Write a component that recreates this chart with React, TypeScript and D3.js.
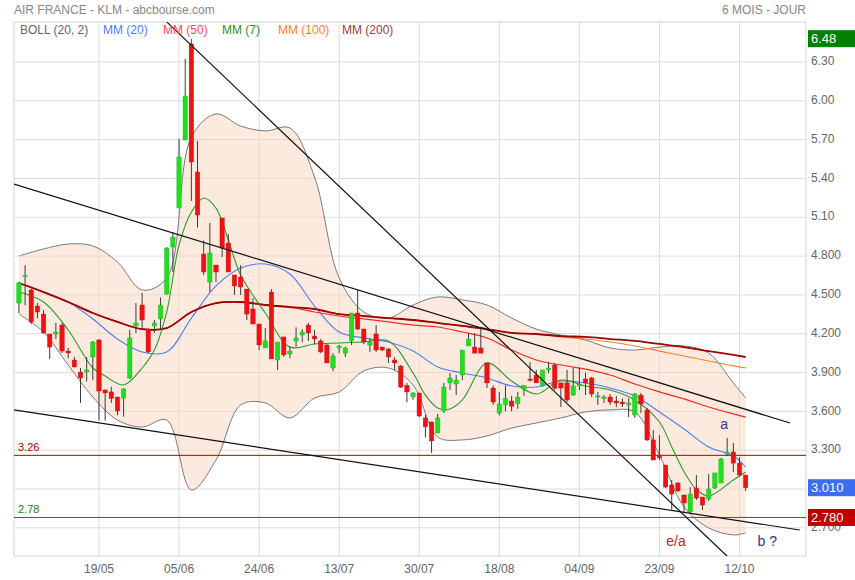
import React from 'react';
import * as d3 from 'd3';

const W = 855;
const H = 580;
const plot = { left: 14, right: 806, top: 22, bottom: 556 };

// open, high, low, close (one per trading day)
const candles: [number, number, number, number][] = [
  [4.437, 4.6, 4.36, 4.592], [4.646, 4.73, 4.42, 4.65], [4.538, 4.55, 4.275, 4.29],
  [4.414, 4.437, 4.32, 4.368], [4.352, 4.383, 4.2, 4.206], [4.198, 4.198, 4.005, 4.097],
  [4.198, 4.283, 4.159, 4.213], [4.267, 4.283, 4.05, 4.066], [4.066, 4.09, 4.01, 4.051],
  [3.997, 4.02, 3.94, 3.943], [3.904, 3.935, 3.665, 3.858], [3.904, 4.02, 3.83, 3.92],
  [4.02, 4.144, 3.84, 4.136], [4.151, 4.16, 3.53, 3.757], [3.765, 3.77, 3.53, 3.742],
  [3.75, 3.79, 3.665, 3.7], [3.711, 3.711, 3.57, 3.603], [3.703, 3.78, 3.56, 3.773],
  [3.858, 4.23, 3.85, 4.167], [4.26, 4.437, 4.206, 4.283], [4.422, 4.515, 4.23, 4.306],
  [4.236, 4.24, 4.05, 4.059], [4.26, 4.306, 4.206, 4.283], [4.314, 4.48, 4.23, 4.422],
  [4.507, 4.87, 4.5, 4.862], [4.87, 4.986, 4.677, 4.947], [5.172, 5.705, 5.17, 5.566],
  [5.697, 6.323, 5.697, 6.037], [6.439, 6.478, 5.226, 5.527], [5.45, 5.69, 5.02, 5.117],
  [4.816, 4.92, 4.654, 4.677], [4.6, 5.056, 4.522, 4.824], [4.731, 4.731, 4.6, 4.677],
  [5.094, 5.094, 4.793, 4.862], [4.9, 4.97, 4.677, 4.677], [4.654, 4.654, 4.5, 4.569],
  [4.638, 4.73, 4.5, 4.561], [4.545, 4.545, 4.306, 4.352], [4.391, 4.476, 4.275, 4.275],
  [4.275, 4.275, 4.074, 4.113], [4.09, 4.244, 4.09, 4.144], [4.522, 4.545, 4.005, 4.005],
  [3.997, 4.136, 3.92, 4.136], [4.175, 4.175, 4.02, 4.036], [4.043, 4.1, 4.01, 4.066],
  [4.144, 4.25, 4.1, 4.167], [4.19, 4.236, 4.136, 4.213], [4.267, 4.283, 4.144, 4.206],
  [4.182, 4.23, 4.12, 4.159], [4.144, 4.16, 4.05, 4.059], [4.113, 4.12, 3.974, 3.974],
  [3.935, 4.05, 3.91, 4.028], [4.09, 4.113, 4.05, 4.105], [4.05, 4.1, 4.02, 4.09],
  [4.144, 4.36, 4.113, 4.36], [4.36, 4.538, 4.23, 4.236], [4.236, 4.24, 4.12, 4.136],
  [4.113, 4.167, 4.06, 4.136], [4.198, 4.267, 4.06, 4.074], [4.097, 4.1, 4.066, 4.074],
  [4.082, 4.09, 3.974, 4.02], [3.997, 4.02, 3.92, 3.974], [3.95, 3.958, 3.78, 3.788],
  [3.8, 3.82, 3.67, 3.75], [3.711, 3.75, 3.69, 3.742], [3.742, 3.742, 3.556, 3.564],
  [3.549, 3.572, 3.4, 3.48], [3.518, 3.518, 3.28, 3.371], [3.433, 3.58, 3.433, 3.549],
  [3.603, 3.82, 3.587, 3.788], [3.82, 3.896, 3.765, 3.858], [3.811, 3.88, 3.726, 3.842],
  [3.881, 4.074, 3.842, 4.074], [4.105, 4.206, 4.105, 4.159], [4.097, 4.206, 4.05, 4.05],
  [4.09, 4.236, 4.05, 4.05], [3.974, 3.974, 3.78, 3.82], [3.78, 3.8, 3.65, 3.672],
  [3.587, 3.75, 3.57, 3.657], [3.65, 3.8, 3.6, 3.7], [3.68, 3.72, 3.6, 3.64],
  [3.66, 3.75, 3.62, 3.71], [3.773, 3.8, 3.72, 3.8], [3.85, 3.98, 3.83, 3.84],
  [3.88, 3.92, 3.82, 3.82], [3.8, 3.92, 3.79, 3.92], [3.92, 3.98, 3.895, 3.935],
  [3.958, 3.974, 3.765, 3.78], [3.82, 3.82, 3.634, 3.78], [3.82, 3.92, 3.672, 3.688],
  [3.726, 3.935, 3.72, 3.796], [3.796, 3.935, 3.765, 3.81], [3.85, 3.9, 3.726, 3.82],
  [3.858, 3.865, 3.71, 3.734], [3.711, 3.75, 3.65, 3.72], [3.7, 3.726, 3.665, 3.711],
  [3.711, 3.734, 3.65, 3.672], [3.68, 3.72, 3.634, 3.665], [3.672, 3.7, 3.634, 3.657],
  [3.65, 3.7, 3.556, 3.665], [3.572, 3.742, 3.549, 3.734], [3.726, 3.742, 3.587, 3.657],
  [3.61, 3.626, 3.371, 3.379], [3.379, 3.456, 3.224, 3.224], [3.263, 3.417, 3.224, 3.24],
  [3.185, 3.185, 3.008, 3.015], [3.031, 3.07, 2.84, 2.961], [3.046, 3.054, 2.977, 2.985],
  [2.954, 2.954, 2.815, 2.892], [2.822, 3.015, 2.815, 2.961], [3.008, 3.108, 2.915, 2.93],
  [2.938, 2.938, 2.838, 2.876], [2.923, 3.116, 2.907, 3.0], [3.008, 3.124, 3.0, 3.124],
  [3.046, 3.24, 3.046, 3.232], [3.27, 3.394, 3.255, 3.286], [3.286, 3.355, 3.13, 3.2],
  [3.2, 3.247, 3.1, 3.108], [3.108, 3.108, 2.985, 3.01],
];

const dateTickIdx = [13, 26, 39, 52, 65, 78, 91, 104, 117];
const dateTickLabels = ['19/05', '05/06', '24/06', '13/07', '30/07', '18/08', '04/09', '23/09', '12/10'];

// 3.000 is covered by the last-price box, so it has no label
const priceTicks = [6.3, 6.0, 5.7, 5.4, 5.1, 4.8, 4.5, 4.2, 3.9, 3.6, 3.3, 3.0, 2.7];
const priceTickLabels = ['6.30', '6.00', '5.70', '5.40', '5.10', '4.800', '4.500', '4.200', '3.900', '3.600', '3.300', '', '2.700'];

// indicator readings, sampled every few sessions
const sampleIdx = [0, 4, 8, 12, 16, 20, 24, 28, 32, 36, 40, 44, 48, 52, 56, 60, 64, 68, 72, 76, 80, 84, 88, 92, 96, 100, 104, 108, 112, 116, 118];
const bollUpper = [4.801, 4.855, 4.893, 4.878, 4.754, 4.538, 4.631, 5.72, 5.898, 5.805, 5.767, 5.79, 5.411, 4.631, 4.368, 4.321, 4.422, 4.484, 4.461, 4.422, 4.321, 4.236, 4.19, 4.151, 4.09, 4.074, 4.097, 4.105, 4.051, 3.819, 3.703];
const bollLower = [4.352, 4.213, 3.958, 3.711, 3.533, 3.479, 3.533, 2.992, 3.224, 3.649, 3.665, 3.549, 3.703, 3.75, 3.912, 3.935, 3.804, 3.402, 3.379, 3.41, 3.471, 3.51, 3.549, 3.595, 3.611, 3.595, 3.263, 2.861, 2.699, 2.645, 2.66];
const mm20 = [4.592, 4.522, 4.445, 4.314, 4.159, 4.059, 4.059, 4.321, 4.569, 4.708, 4.739, 4.662, 4.414, 4.213, 4.167, 4.136, 4.066, 3.943, 3.896, 3.858, 3.796, 3.788, 3.835, 3.819, 3.781, 3.719, 3.595, 3.464, 3.325, 3.255, 3.17];
const mm50 = [4.592, 4.522, 4.445, 4.36, 4.291, 4.236, 4.244, 4.368, 4.437, 4.445, 4.422, 4.406, 4.368, 4.337, 4.314, 4.291, 4.267, 4.252, 4.213, 4.167, 4.074, 3.997, 3.958, 3.927, 3.881, 3.811, 3.75, 3.696, 3.634, 3.58, 3.556];
const mm100 = [4.592, 4.522, 4.445, 4.36, 4.291, 4.236, 4.244, 4.368, 4.437, 4.445, 4.422, 4.406, 4.391, 4.352, 4.337, 4.321, 4.306, 4.283, 4.26, 4.236, 4.206, 4.198, 4.175, 4.159, 4.136, 4.105, 4.066, 4.028, 3.989, 3.951, 3.935];
const mm200 = [4.592, 4.522, 4.445, 4.36, 4.291, 4.236, 4.244, 4.368, 4.437, 4.445, 4.422, 4.406, 4.391, 4.352, 4.337, 4.321, 4.306, 4.283, 4.26, 4.236, 4.206, 4.198, 4.182, 4.175, 4.159, 4.144, 4.121, 4.097, 4.066, 4.036, 4.02];

const mm7Idx = [0, 4, 8, 12, 14, 17, 20, 22, 24, 26, 28, 30, 32, 34, 36, 40, 44, 48, 52, 56, 60, 64, 66, 68, 70, 72, 76, 80, 84, 88, 92, 96, 100, 104, 106, 108, 110, 112, 116, 118];
const mm7 = [4.522, 4.445, 4.229, 3.935, 3.873, 3.804, 3.935, 4.074, 4.368, 4.886, 5.14, 5.249, 5.171, 4.924, 4.654, 4.36, 4.097, 4.121, 4.128, 4.136, 4.144, 3.896, 3.726, 3.626, 3.618, 3.688, 3.974, 3.835, 3.734, 3.842, 3.796, 3.765, 3.688, 3.518, 3.325, 3.134, 2.996, 2.946, 3.07, 3.131];

// hand drawn trend lines: [startIdx, startPrice, endIdx, endPrice]
const trendLines: [number, number, number, number][] = [
  [24.0, 6.61, 115.0, 2.48],
  [-0.8, 5.357, 125.2, 3.51],
  [-0.8, 3.611, 126.8, 2.683],
];

const supports = [
  { v: 3.26, label: '3.26', color: '#b00000' },
  { v: 2.78, label: '2.78', color: '#1a7a1a' },
];

const lastLabels = [
  { v: 6.48, text: '6.48', color: '#008000' },
  { v: 3.01, text: '3.010', color: '#3c6df0' },
  { v: 2.78, text: '2.780', color: '#c00000' },
];

const legend = [
  { text: 'BOLL (20, 2)', color: '#666', x: 20 },
  { text: 'MM (20)', color: '#4d7cfe', x: 103 },
  { text: 'MM (50)', color: '#ff4a4a', x: 163 },
  { text: 'MM (7)', color: '#2a8f2a', x: 222 },
  { text: 'MM (100)', color: '#ff7f27', x: 278 },
  { text: 'MM (200)', color: '#a33a3a', x: 342 },
];

const notes = [
  { text: 'a', idx: 114.5, v: 3.464, color: '#333399' },
  { text: 'e/a', idx: 106.7, v: 2.56, color: '#cc2222' },
  { text: 'b ?', idx: 121.5, v: 2.56, color: '#333399' },
];

const FONT = '"Liberation Sans", Arial, sans-serif';

export default function App() {
  const x = d3.scaleLinear().domain([-0.8, 127.8]).range([plot.left, plot.right]);
  const y = d3.scaleLinear().domain([2.4822, 6.609]).range([plot.bottom, plot.top]);

  const band = d3
    .area<number>()
    .x((i) => x(sampleIdx[i]))
    .y0((i) => y(bollLower[i]))
    .y1((i) => y(bollUpper[i]))
    .curve(d3.curveCatmullRom);
  const idxs = d3.range(sampleIdx.length);

  const lineOf = (vals: number[], idx: number[] = sampleIdx) =>
    d3
      .line<number>()
      .x((i) => x(idx[i]))
      .y((i) => y(vals[i]))
      .curve(d3.curveCatmullRom)(d3.range(vals.length)) || '';

  const bodyW = 4.4;

  return (
    <svg width={W} height={H} style={{ position: 'absolute', left: 0, top: 0, background: '#fff' }} fontFamily={FONT}>
      <defs>
        <clipPath id="plotClip">
          <rect x={plot.left} y={plot.top} width={plot.right - plot.left} height={plot.bottom - plot.top} />
        </clipPath>
      </defs>

      <text x={14} y={14} fontSize={12} fill="#888">AIR FRANCE - KLM - abcbourse.com</text>
      <text x={plot.right} y={14} fontSize={12} fill="#888" textAnchor="end">6 MOIS - JOUR</text>

      {/* grid */}
      {priceTicks.map((t) => (
        <line key={'h' + t} x1={plot.left} x2={plot.right} y1={y(t)} y2={y(t)} stroke="#dcdcdc" />
      ))}
      {dateTickIdx.map((t) => (
        <line key={'v' + t} x1={x(t)} x2={x(t)} y1={plot.top} y2={plot.bottom} stroke="#dcdcdc" />
      ))}
      <rect x={plot.left} y={plot.top} width={plot.right - plot.left} height={plot.bottom - plot.top} fill="none" stroke="#d4d4d4" />

      {/* bollinger */}
      <path d={band(idxs) || ''} fill="#fbd5bd" fillOpacity={0.5} />
      <path d={lineOf(bollUpper)} fill="none" stroke="#7a7a7a" strokeWidth={1} />
      <path d={lineOf(bollLower)} fill="none" stroke="#7a7a7a" strokeWidth={1} />

      {supports.map((s) => (
        <g key={s.label}>
          <line x1={plot.left} x2={plot.right} y1={y(s.v)} y2={y(s.v)} stroke={s.color} strokeWidth={1} />
          <text x={18} y={y(s.v) - 4} fontSize={11} fill={s.color}>{s.label}</text>
        </g>
      ))}

      {/* moving averages */}
      <path d={lineOf(mm20)} fill="none" stroke="#4d7cfe" strokeWidth={1.1} />
      <path d={lineOf(mm50)} fill="none" stroke="#f02a2a" strokeWidth={1.2} />
      <path d={lineOf(mm100)} fill="none" stroke="#ff7f27" strokeWidth={1.2} />
      <path d={lineOf(mm200)} fill="none" stroke="#a00000" strokeWidth={1.8} />
      <path d={lineOf(mm7, mm7Idx)} fill="none" stroke="#2a9a2a" strokeWidth={1.1} />

      {/* candles */}
      {candles.map(([o, h, l, c], i) => {
        const up = c >= o;
        const top = y(Math.max(o, c));
        const bh = Math.max(1.2, Math.abs(y(o) - y(c)));
        return (
          <g key={i}>
            <line x1={x(i)} x2={x(i)} y1={y(h)} y2={y(l)} stroke="#3a3a3a" strokeWidth={1} />
            <rect x={x(i) - bodyW / 2} y={top} width={bodyW} height={bh} fill={up ? '#1fe01f' : '#f01212'} stroke={up ? '#17b017' : '#c80e0e'} strokeWidth={0.4} />
          </g>
        );
      })}

      {/* trend lines */}
      <g clipPath="url(#plotClip)">
        {trendLines.map(([i0, v0, i1, v1], k) => (
          <line key={k} x1={x(i0)} y1={y(v0)} x2={x(i1)} y2={y(v1)} stroke="#111" strokeWidth={1.2} />
        ))}
      </g>

      {notes.map((n) => (
        <text key={n.text} x={x(n.idx)} y={y(n.v)} fontSize={14} fill={n.color} textAnchor="middle">{n.text}</text>
      ))}

      {/* legend */}
      {legend.map((l) => (
        <text key={l.text} x={l.x} y={34} fontSize={12} fill={l.color}>{l.text}</text>
      ))}

      {/* axes labels */}
      {priceTicks.map((t, i) => (
        <text key={'pl' + t} x={811} y={y(t) - 1} dy="0.35em" fontSize={12} fill="#666">{priceTickLabels[i]}</text>
      ))}
      {dateTickIdx.map((t, i) => (
        <text key={'dl' + t} x={x(t)} y={573} fontSize={12} fill="#666" textAnchor="middle" fontFamily='"Liberation Sans Narrow", "Liberation Sans", sans-serif'>{dateTickLabels[i]}</text>
      ))}

      {lastLabels.map((b) => (
        <g key={b.text}>
          <rect x={808} y={y(b.v) - 8.5} width={47} height={17} fill={b.color} />
          <text x={811} y={y(b.v)} dy="0.35em" fontSize={13} fill="#fff">{b.text}</text>
        </g>
      ))}
    </svg>
  );
}
